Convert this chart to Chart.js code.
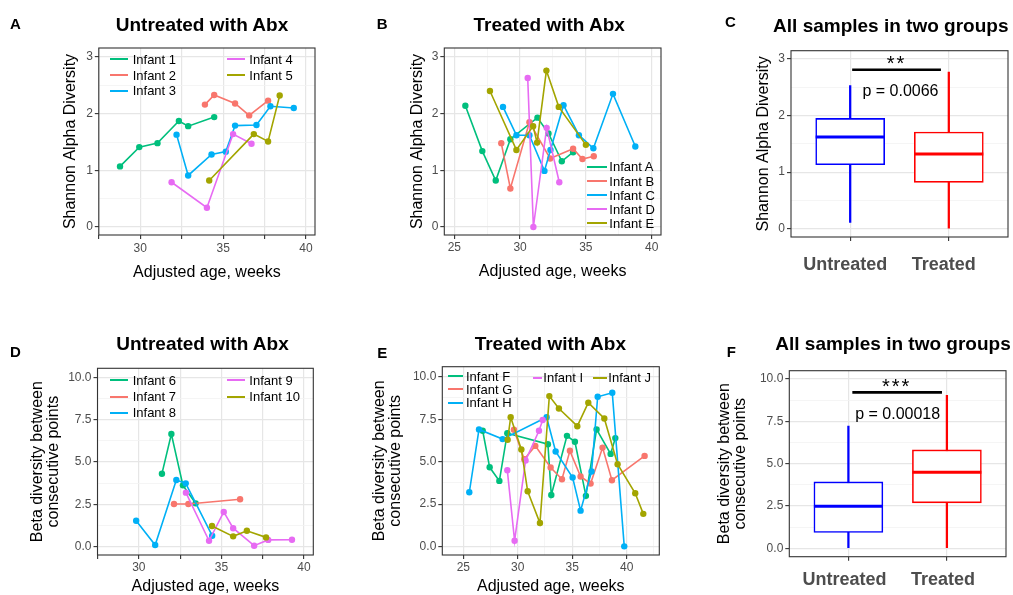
<!DOCTYPE html>
<html>
<head>
<meta charset="utf-8">
<script src="https://cdn.jsdelivr.net/npm/chart.js@4.4.1/dist/chart.umd.min.js"></script>
<style>
  body { margin: 0; width: 1013px; height: 595px; overflow: hidden; background: #fff; position: relative;
         font-family: "Liberation Sans", Arial, Helvetica, sans-serif; }
  canvas { position: absolute; }
  .txt { position: absolute; white-space: nowrap; color: #000; }
  .letter { font-weight: bold; font-size: 15px; line-height: 15px; }
  .title { font-weight: bold; font-size: 19px; line-height: 19px; width: 300px; text-align: center; }
  .lgtext { font-size: 13px; line-height: 13px; }
  .lgkey { position: absolute; height: 2px; }
</style>
</head>
<body>
<script>
/**
 * Alpha / beta diversity over adjusted age, untreated vs treated infants
 */

const infantColors = ['#00BF7D', '#F8766D', '#00B0F6', '#E76BF3', '#A3A500'];

// ── A: Shannon diversity, untreated ───────────────────────────────────
const namesA = ['Infant 1', 'Infant 2', 'Infant 3', 'Infant 4', 'Infant 5'];
const infant1Age = [28.78, 29.94, 31.04, 32.33, 32.89, 34.46];
const infant1Shannon = [1.07, 1.41, 1.48, 1.87, 1.78, 1.94];
const infant2Age = [33.90, 34.46, 35.72, 36.57, 37.71];
const infant2Shannon = [2.16, 2.33, 2.18, 1.97, 2.23];
const infant3Age = [32.19, 32.89, 34.30, 35.16, 35.72, 37.01, 37.85, 39.26];
const infant3Shannon = [1.63, 0.91, 1.28, 1.33, 1.79, 1.80, 2.13, 2.10];
const infant4Age = [31.89, 34.02, 35.60, 36.71];
const infant4Shannon = [0.79, 0.34, 1.64, 1.47];
const infant5Age = [34.16, 36.85, 37.71, 38.41];
const infant5Shannon = [0.82, 1.64, 1.51, 2.32];

// ── B: Shannon diversity, treated ─────────────────────────────────────
const namesB = ['Infant A', 'Infant B', 'Infant C', 'Infant D', 'Infant E'];
const infantAAge = [25.84, 27.13, 28.15, 29.26, 31.32, 32.16, 33.17, 34.03];
const infantAShannon = [2.14, 1.34, 0.82, 1.55, 1.93, 1.65, 1.16, 1.32];
const infantBAge = [28.57, 29.26, 30.71, 32.28, 34.03, 34.74, 35.60];
const infantBShannon = [1.48, 0.68, 1.85, 1.21, 1.38, 1.20, 1.25];
const infantCAge = [28.70, 29.72, 30.71, 31.85, 32.31, 33.30, 34.47, 35.57, 37.06, 38.76];
const infantCShannon = [2.12, 1.62, 1.62, 0.99, 1.36, 2.15, 1.62, 1.39, 2.35, 1.42];
const infantDAge = [30.58, 31.01, 32.02, 32.98];
const infantDShannon = [2.63, 0.00, 1.75, 0.79];
const infantEAge = [27.71, 29.72, 30.99, 31.29, 32.00, 32.94, 35.00];
const infantEShannon = [2.40, 1.36, 1.78, 1.49, 2.76, 2.12, 1.45];

// ── D: beta diversity, untreated ──────────────────────────────────────
const namesD = ['Infant 6', 'Infant 7', 'Infant 8', 'Infant 9', 'Infant 10'];
const infant6Age = [31.40, 31.97, 32.67, 33.44];
const infant6Beta = [4.31, 6.65, 3.62, 2.56];
const infant7Age = [32.13, 33.00, 36.13];
const infant7Beta = [2.52, 2.52, 2.80];
const infant8Age = [29.84, 30.99, 32.27, 32.84, 34.44];
const infant8Beta = [1.53, 0.10, 3.94, 3.74, 0.65];
const infant9Age = [32.85, 34.25, 35.14, 35.71, 36.98, 37.83, 39.27];
const infant9Beta = [3.19, 0.35, 2.05, 1.09, 0.06, 0.40, 0.41];
const infant10Age = [34.43, 35.71, 36.54, 37.70];
const infant10Beta = [1.22, 0.61, 0.94, 0.55];

// ── E: beta diversity, treated ────────────────────────────────────────
const namesE = ['Infant F', 'Infant G', 'Infant H', 'Infant I', 'Infant J'];
const infantFAge = [26.78, 27.42, 28.31, 29.04, 32.77, 33.08, 34.52, 35.25, 36.26, 37.24, 38.53, 38.96];
const infantFBeta = [6.82, 4.67, 3.87, 6.68, 6.03, 3.04, 6.52, 6.17, 2.99, 6.90, 5.46, 6.39];
const infantGAge = [29.65, 30.60, 31.61, 33.02, 34.06, 34.79, 35.77, 36.69, 37.79, 38.65, 41.65];
const infantGBeta = [6.88, 5.15, 5.93, 4.66, 3.97, 5.64, 4.13, 3.71, 5.83, 3.91, 5.34];
const infantHAge = [25.55, 26.44, 28.61, 32.65, 33.48, 35.04, 35.77, 36.78, 37.34, 38.68, 39.78];
const infantHBeta = [3.20, 6.90, 6.33, 7.62, 5.60, 4.07, 2.12, 4.42, 8.82, 9.06, 0.02];
const infantIAge = [29.04, 29.71, 30.72, 31.95, 32.29];
const infantIBeta = [4.50, 0.35, 5.07, 6.82, 7.45];
const infantJAge = [29.07, 29.35, 30.33, 30.91, 32.04, 32.90, 33.78, 35.47, 36.48, 37.95, 39.17, 40.79, 41.53];
const infantJBeta = [6.29, 7.62, 5.72, 3.26, 1.39, 8.86, 8.13, 7.09, 8.47, 7.54, 4.85, 3.14, 1.93];

// ── C / F: box plots of all samples ───────────────────────────────────
const groups = ['Untreated', 'Treated'];
const groupColors = ['#0000FF', '#FF0000'];
const shannonMin = [0.11, 0.00];
const shannonQ1 = [1.13, 0.82];
const shannonMedian = [1.62, 1.32];
const shannonQ3 = [1.95, 1.71];
const shannonMax = [2.53, 2.77];
const betaMin = [0.04, 0.04];
const betaQ1 = [0.93, 2.68];
const betaMedian = [2.48, 4.49];
const betaQ3 = [3.92, 5.81];
const betaMax = [7.22, 9.04];

const shannonSigX = [1.02, 1.92];
const shannonSigY = 2.81;
const shannonStars = '**';
const shannonP = 'p = 0.0066';
const betaSigX = [1.04, 1.95];
const betaSigY = 9.21;
const betaStars = '***';
const betaP = 'p = 0.00018';

// ── tick labels ───────────────────────────────────────────────────────
const shannonTicks = [0, 1, 2, 3];
const betaTicks = [0, 2.5, 5, 7.5, 10];
const ageLabels = [25, 30, 35, 40];
const ageMarksUntreated = [27.5, 30, 32.5, 35, 37.5, 40];

Chart.defaults.font.family = '"Liberation Sans", Arial, Helvetica, sans-serif';

const MAJOR = '#e6e6e6', MINOR = '#f3f3f3', TICK = '#333333';

function withMinors(majors, lo, hi) {
  const step = majors[1] - majors[0];
  const out = [];
  for (let v = majors[0] - step / 2; v <= hi; v += step / 2) if (v >= lo) out.push(+v.toFixed(4));
  return out;
}

function scaleOpts(s) {
  const isMajor = v => s.major.includes(v);
  return {
    type: 'linear', min: s.min, max: s.max, offset: false, bounds: 'data',
    afterBuildTicks: sc => { sc.ticks = s.ticks.map(v => ({ value: v })); },
    afterFit: sc => {
      if (sc.isHorizontal()) sc.height = s.size; else sc.width = s.size;
      sc.paddingTop = sc.paddingBottom = sc.paddingLeft = sc.paddingRight = 0;
    },
    border: { display: false },
    grid: {
      offset: false,
      color: c => (c.tick && isMajor(c.tick.value)) ? MAJOR : MINOR,
      lineWidth: c => (c.tick && isMajor(c.tick.value)) ? 1.2 : 0.8,
      tickColor: c => (c.tick && s.marks.includes(c.tick.value)) ? TICK : 'rgba(0,0,0,0)',
      tickWidth: 1.1,
      tickLength: 4,
    },
    ticks: {
      autoSkip: false, maxRotation: 0, padding: s.pad, labelOffset: s.labelOffset || 0,
      color: '#4d4d4d', font: s.font || { size: 12, lineHeight: 1.2 },
      callback: v => s.labels.includes(v) ? s.fmt(v) : '',
    },
    title: s.title ? {
      display: true, text: s.title, color: '#000',
      font: { size: 16, lineHeight: 1.0 }, padding: s.titlePad,
    } : { display: false },
  };
}

const panelBorder = {
  id: 'panelBorder',
  afterDraw(chart) {
    const { ctx, chartArea: a } = chart;
    ctx.save();
    ctx.strokeStyle = '#333333';
    ctx.lineWidth = 1.1;
    ctx.strokeRect(a.left, a.top, a.right - a.left, a.bottom - a.top);
    ctx.restore();
  },
};

// median line across each box + significance texts
const boxExtras = {
  id: 'boxExtras',
  afterDatasetsDraw(chart, args, opts) {
    const { ctx } = chart;
    const xs = chart.scales.x, ys = chart.scales.y;
    ctx.save();
    chart.getDatasetMeta(0).data.forEach((bar, i) => {
      const py = ys.getPixelForValue(opts.median[i]);
      ctx.strokeStyle = opts.colors[i];
      ctx.lineWidth = 3;
      ctx.beginPath();
      ctx.moveTo(bar.x - bar.width / 2, py);
      ctx.lineTo(bar.x + bar.width / 2, py);
      ctx.stroke();
    });
    ctx.fillStyle = '#000';
    ctx.textAlign = 'center';
    ctx.textBaseline = 'middle';
    opts.notes.forEach(n => {
      ctx.font = n.font;
      if ('letterSpacing' in ctx) ctx.letterSpacing = n.spacing || '0px';
      ctx.fillText(n.text, xs.getPixelForValue(n.x), ys.getPixelForValue(n.y));
    });
    ctx.restore();
  },
};

function makeChart(box, type, datasets, xs, ys, extraPlugins, pluginOpts) {
  const cv = document.createElement('canvas');
  cv.width = box.w; cv.height = box.h;
  cv.style.left = box.x + 'px'; cv.style.top = box.y + 'px';
  document.body.appendChild(cv);
  return new Chart(cv, {
    type,
    data: { datasets },
    options: {
      responsive: false, animation: false, events: [], devicePixelRatio: 1,
      layout: { padding: { top: box.padTop, right: box.padRight, left: 0, bottom: 0 } },
      plugins: Object.assign({ legend: { display: false }, tooltip: { enabled: false } }, pluginOpts || {}),
      scales: { x: scaleOpts(xs), y: scaleOpts(ys) },
    },
    plugins: [panelBorder].concat(extraPlugins || []),
  });
}

function lineChart(box, names, ages, vals, xs, ys) {
  const datasets = names.map((n, i) => ({
    label: n,
    data: ages[i].map((a, k) => ({ x: a, y: vals[i][k] })),
    showLine: true,
    borderColor: infantColors[i],
    backgroundColor: infantColors[i],
    borderWidth: 1.6,
    pointRadius: 3.2,
    pointBorderWidth: 0,
    order: names.length - i,
  }));
  return makeChart(box, 'scatter', datasets, xs, ys);
}

function boxChart(box, st, sig, notes, xs, ys) {
  const datasets = [
    {
      type: 'bar', grouped: false, order: 1,
      data: groups.map((g, i) => ({ x: i + 1, y: [st.q1[i], st.q3[i]] })),
      backgroundColor: '#ffffff', borderColor: groupColors, borderWidth: 1.6,
      borderSkipped: false, barThickness: 69,
    },
    {
      type: 'bar', grouped: false, order: 2,
      data: groups.map((g, i) => ({ x: i + 1, y: [st.min[i], st.max[i]] })),
      backgroundColor: groupColors, borderWidth: 0, barThickness: 1.6,
    },
    {
      type: 'line', order: 0,
      data: sig.x.map(x => ({ x, y: sig.y })),
      borderColor: '#000', borderWidth: 2.6, pointRadius: 0,
    },
  ];
  return makeChart(box, 'bar', datasets, xs, ys, [boxExtras],
    { boxExtras: { median: st.median, colors: groupColors, notes } });
}

function addText(cls, text, left, top, extra) {
  const d = document.createElement('div');
  d.className = 'txt ' + cls;
  d.textContent = text;
  d.style.left = left + 'px';
  d.style.top = top + 'px';
  if (extra) Object.assign(d.style, extra);
  document.body.appendChild(d);
}

function addLegend(names, keys) {
  names.forEach((n, i) => {
    const [l, r, tx, y] = keys[i];
    const k = document.createElement('div');
    k.className = 'lgkey';
    Object.assign(k.style, { left: l + 'px', width: (r - l) + 'px', top: (y - 1) + 'px', background: infantColors[i] });
    document.body.appendChild(k);
    addText('lgtext', n, tx, y - 6.3);
  });
}

const fmtInt = v => String(v);
const fmtOne = v => v.toFixed(1);
const shannonMinor = withMinors(shannonTicks, -0.2, 3.2);
const betaMinor = withMinors(betaTicks, -0.5, 10.6);
const shannonTitle = 'Shannon Alpha Diversity';
const betaTitle = ['Beta diversity between', 'consecutive points'];
const ageTitle = 'Adjusted age, weeks';

// ── A ─────────────────────────────────────────────────────────────────
lineChart({ x: 0, y: 0, w: 325, h: 290, padTop: 48, padRight: 10 }, namesA,
  [infant1Age, infant2Age, infant3Age, infant4Age, infant5Age],
  [infant1Shannon, infant2Shannon, infant3Shannon, infant4Shannon, infant5Shannon],
  { min: 27.5, max: 40.54, ticks: ageMarksUntreated, major: ageMarksUntreated, marks: ageMarksUntreated,
    labels: ageLabels, fmt: fmtInt, size: 55, pad: 2.9, title: ageTitle, titlePad: { bottom: 9.2 } },
  { min: -0.141, max: 3.159, ticks: shannonMinor, major: shannonTicks, marks: shannonTicks,
    labels: shannonTicks, fmt: fmtInt, size: 98.8, pad: 2, title: shannonTitle, titlePad: { top: 62.5 } });

// ── B ─────────────────────────────────────────────────────────────────
lineChart({ x: 340, y: 0, w: 331, h: 290, padTop: 48, padRight: 10 }, namesB,
  [infantAAge, infantBAge, infantCAge, infantDAge, infantEAge],
  [infantAShannon, infantBShannon, infantCShannon, infantDShannon, infantEShannon],
  { min: 24.24, max: 40.71, ticks: withMinors(ageLabels, 24.24, 40.71), major: ageLabels, marks: ageLabels,
    labels: ageLabels, fmt: fmtInt, size: 55, pad: 1.9, title: ageTitle, titlePad: { bottom: 10.8 } },
  { min: -0.141, max: 3.159, ticks: shannonMinor, major: shannonTicks, marks: shannonTicks,
    labels: shannonTicks, fmt: fmtInt, size: 104.3, pad: 2, title: shannonTitle, titlePad: { top: 69.2 } });

// ── C ─────────────────────────────────────────────────────────────────
boxChart({ x: 680, y: 0, w: 333, h: 290, padTop: 50.7, padRight: 5 },
  { min: shannonMin, q1: shannonQ1, median: shannonMedian, q3: shannonQ3, max: shannonMax },
  { x: shannonSigX, y: shannonSigY },
  [{ text: shannonStars, x: 1.47, y: 2.90, font: '20px "Liberation Sans", Arial', spacing: '2px' },
   { text: shannonP, x: 1.51, y: 2.42, font: '16px "Liberation Sans", Arial' }],
  { min: 0.4, max: 2.6, ticks: [1, 2], major: [1, 2], marks: [1, 2], labels: [1, 2],
    fmt: v => groups[v - 1], size: 53, pad: 13.7, labelOffset: -5,
    font: { size: 18, weight: 'bold', lineHeight: 1.2 } },
  { min: -0.147, max: 3.147, ticks: shannonMinor, major: shannonTicks, marks: shannonTicks,
    labels: shannonTicks, fmt: fmtInt, size: 111, pad: 2, title: shannonTitle, titlePad: { top: 75.8 } });

// ── D ─────────────────────────────────────────────────────────────────
lineChart({ x: 0, y: 300, w: 324, h: 295, padTop: 68.3, padRight: 10.7 }, namesD,
  [infant6Age, infant7Age, infant8Age, infant9Age, infant10Age],
  [infant6Beta, infant7Beta, infant8Beta, infant9Beta, infant10Beta],
  { min: 27.5, max: 40.56, ticks: ageMarksUntreated, major: ageMarksUntreated, marks: ageMarksUntreated,
    labels: ageLabels, fmt: fmtInt, size: 40, pad: 1.3, title: ageTitle, titlePad: { bottom: 0 } },
  { min: -0.49, max: 10.53, ticks: betaMinor, major: betaTicks, marks: betaTicks,
    labels: betaTicks, fmt: fmtOne, size: 97.5, pad: 2, title: betaTitle, titlePad: { top: 29.2 } });

// ── E ─────────────────────────────────────────────────────────────────
lineChart({ x: 340, y: 300, w: 330, h: 295, padTop: 66.7, padRight: 10.7 }, namesE,
  [infantFAge, infantGAge, infantHAge, infantIAge, infantJAge],
  [infantFBeta, infantGBeta, infantHBeta, infantIBeta, infantJBeta],
  { min: 23.07, max: 43.0, ticks: withMinors(ageLabels, 23.07, 43.0), major: ageLabels, marks: ageLabels,
    labels: ageLabels, fmt: fmtInt, size: 40, pad: 1.3, title: ageTitle, titlePad: { bottom: 0.8 } },
  { min: -0.49, max: 10.59, ticks: betaMinor, major: betaTicks, marks: betaTicks,
    labels: betaTicks, fmt: fmtOne, size: 102.3, pad: 2, title: betaTitle, titlePad: { top: 31.5 } });

// ── F ─────────────────────────────────────────────────────────────────
boxChart({ x: 680, y: 300, w: 333, h: 295, padTop: 70.7, padRight: 7 },
  { min: betaMin, q1: betaQ1, median: betaMedian, q3: betaQ3, max: betaMax },
  { x: betaSigX, y: betaSigY },
  [{ text: betaStars, x: 1.49, y: 9.51, font: '20px "Liberation Sans", Arial', spacing: '2px' },
   { text: betaP, x: 1.50, y: 7.91, font: '16px "Liberation Sans", Arial' }],
  { min: 0.4, max: 2.6, ticks: [1, 2], major: [1, 2], marks: [1, 2], labels: [1, 2],
    fmt: v => groups[v - 1], size: 38.3, pad: 9.0, labelOffset: -4,
    font: { size: 18, weight: 'bold', lineHeight: 1.2 } },
  { min: -0.50, max: 10.49, ticks: betaMinor, major: betaTicks, marks: betaTicks,
    labels: betaTicks, fmt: fmtOne, size: 109.3, pad: 2, title: betaTitle, titlePad: { top: 36.5 } });

// ── panel letters, titles, legends ────────────────────────────────────
[['A', 10, 28.3], ['B', 376.7, 28.3], ['C', 725, 26.7],
 ['D', 10, 356.7], ['E', 377.3, 357.3], ['F', 726.7, 356.7]]
  .forEach(([t, x, base]) => addText('letter', t, x, base - 12.7));

[['Untreated with Abx', 202, 30.7], ['Treated with Abx', 549.2, 30.7], ['All samples in two groups', 890.8, 31.7],
 ['Untreated with Abx', 202.5, 350], ['Treated with Abx', 550.3, 350], ['All samples in two groups', 893, 350]]
  .forEach(([t, cx, base]) => addText('title', t, cx - 150, base - 16.1));

addLegend(namesA, [[110, 128, 132.7, 59.3], [110, 128, 132.7, 75], [110, 128, 132.7, 90.7],
                   [226.7, 245, 249.3, 59.3], [226.7, 245, 249.3, 75]]);
addLegend(namesB, [[586.7, 606.7, 609.3, 166.7], [586.7, 606.7, 609.3, 181.3], [586.7, 606.7, 609.3, 195],
                   [586.7, 606.7, 609.3, 209.3], [586.7, 606.7, 609.3, 223]]);
addLegend(namesD, [[110, 128, 132.7, 380], [110, 128, 132.7, 396.7], [110, 128, 132.7, 412.7],
                   [226.7, 245, 249.3, 380], [226.7, 245, 249.3, 396.7]]);
addLegend(namesE, [[448.3, 462.7, 466, 376], [448.3, 462.7, 466, 389.3], [448.3, 462.7, 466, 402.7],
                   [533.3, 541.7, 543.3, 377.7], [593.3, 606.7, 608.3, 377.7]]);
</script>
</body>
</html>
